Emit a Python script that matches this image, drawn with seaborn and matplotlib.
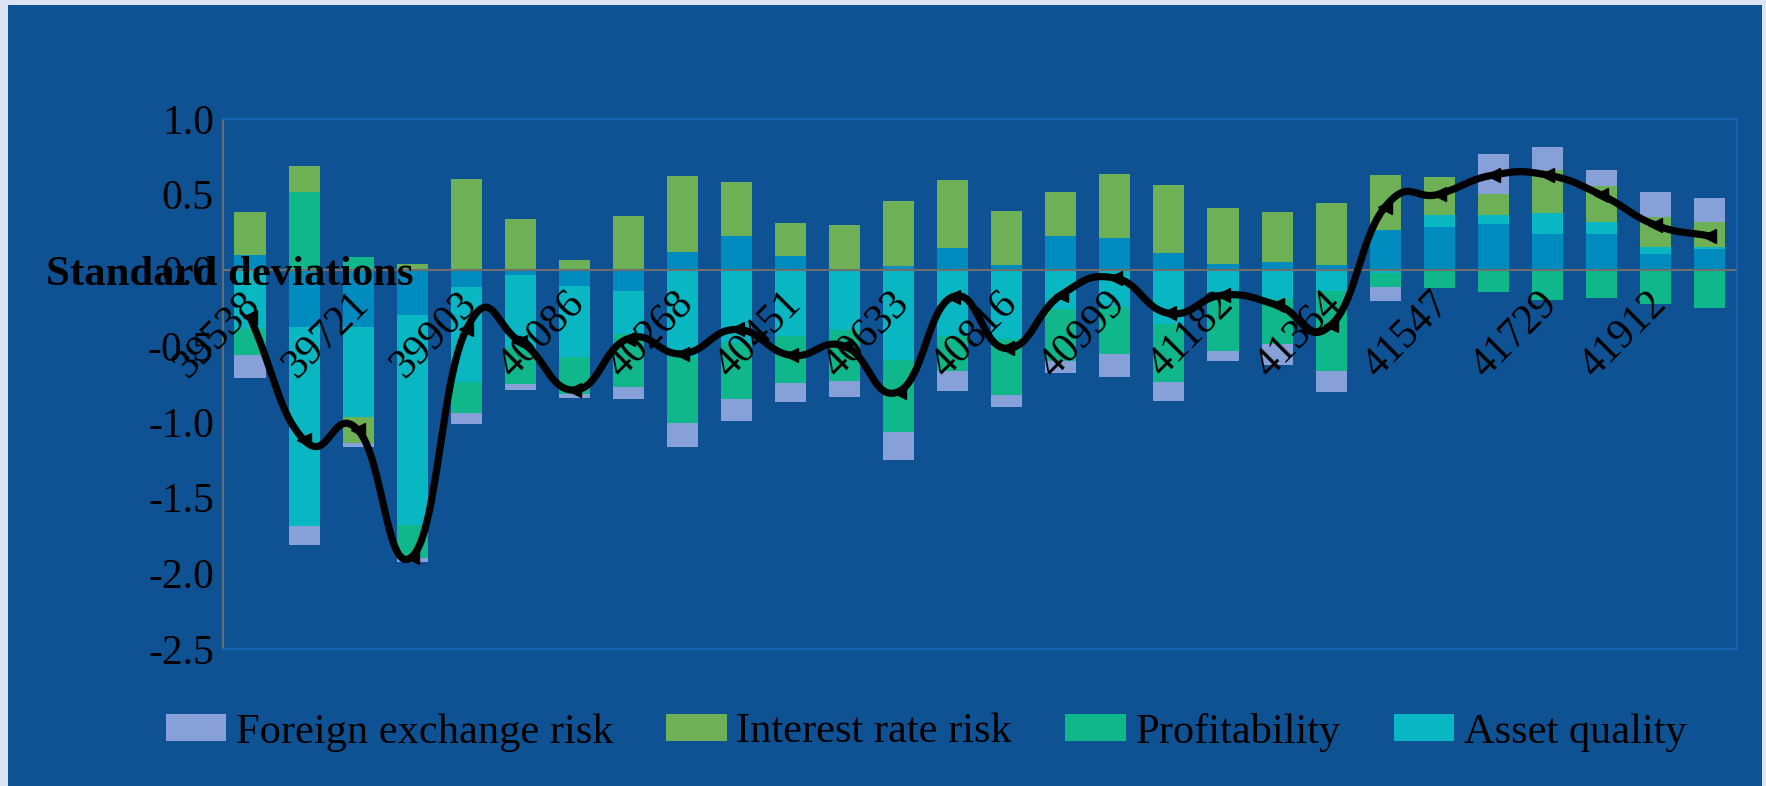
import numpy as np
import matplotlib
matplotlib.use("Agg")
import matplotlib.pyplot as plt
from matplotlib.patches import Patch, Rectangle
from matplotlib.transforms import offset_copy
import seaborn as sns

# Quarter-end dates (spreadsheet serial numbers)
dates = [39538, 39629, 39721, 39813, 39903, 39994, 40086, 40178, 40268, 40359,
         40451, 40543, 40633, 40724, 40816, 40908, 40999, 41090, 41182, 41274,
         41364, 41455, 41547, 41639, 41729, 41820, 41912, 42004]

# Contributions to the composite index (standard deviations)
liquidity = [0.10, -0.374, -0.374, -0.295, -0.11, -0.03, -0.103, -0.137, 0.12, 0.227,
             0.095, 0.01, 0.03, 0.148, 0.035, 0.227, 0.214, 0.112, 0.042, 0.055,
             0.035, 0.266, 0.286, 0.306, 0.24, 0.24, 0.108, 0.141]
asset_quality = [-0.387, -1.314, -0.594, -1.387, -0.627, -0.473, -0.469, -0.28, -0.57, -0.476,
                 -0.43, -0.394, -0.592, -0.432, -0.453, -0.258, -0.244, -0.354, -0.19, -0.19,
                 -0.137, -0.018, 0.077, 0.057, 0.139, 0.079, 0.046, 0.013]
profitability = [-0.172, 0.52, 0.088, -0.216, -0.205, -0.244, -0.244, -0.354, -0.436, -0.374,
                 -0.315, -0.337, -0.476, -0.233, -0.37, -0.339, -0.308, -0.381, -0.341, -0.293,
                 -0.528, -0.092, -0.114, -0.141, -0.196, -0.18, -0.22, -0.247]
interest_rate = [0.285, 0.17, -0.174, 0.042, 0.603, 0.339, 0.066, 0.359, 0.502, 0.357,
                 0.218, 0.29, 0.43, 0.449, 0.357, 0.291, 0.422, 0.449, 0.37, 0.33,
                 0.41, 0.363, 0.253, 0.141, 0.284, 0.238, 0.198, 0.165]
fx_risk = [-0.15, -0.123, -0.022, -0.026, -0.07, -0.04, -0.024, -0.08, -0.159, -0.145,
           -0.125, -0.103, -0.183, -0.132, -0.077, -0.079, -0.15, -0.125, -0.066, -0.141,
           -0.137, -0.092, -0.005, 0.264, 0.152, 0.106, 0.165, 0.159]

# Composite index
composite = [-0.31, -1.12, -1.055, -1.89, -0.39, -0.47, -0.79, -0.45, -0.55, -0.39,
             -0.56, -0.50, -0.80, -0.174, -0.515, -0.163, -0.05, -0.283, -0.163, -0.228,
             -0.36, 0.42, 0.504, 0.63, 0.63, 0.498, 0.30, 0.227]

y_ticks = [1.0, 0.5, 0.0, -0.5, -1.0, -1.5, -2.0, -2.5]
legend_labels = ["Foreign exchange risk", "Interest rate risk", "Profitability", "Asset quality"]
y_title = "Standard deviations"

BG = "#0E5294"
OUTER = "#DCE4F5"
FRAME = "#1565B9"
AXIS_GREY = "#6E6E6E"
C_FX = "#88A0D8"
C_IR = "#6DB056"
C_PROF = "#10B78A"
C_AQ = "#08B7C1"
C_LIQ = "#008BBF"

sns.set_theme(style="white")
plt.rcParams["font.family"] = ["Liberation Serif", "DejaVu Serif"]
plt.rcParams["axes.unicode_minus"] = False

W, H = 1766, 786
fig = plt.figure(figsize=(W / 100, H / 100), dpi=100, facecolor=OUTER)
fig.patches.append(Rectangle((8 / W, 0), (1762 - 8) / W, (H - 5) / H,
                             transform=fig.transFigure, facecolor=BG,
                             edgecolor="none", zorder=-10))

ax = fig.add_axes([223 / W, 1 - 649 / H, (1736.5 - 223) / W, (649 - 119) / H])
ax.set_facecolor(BG)

# Stacked bars: positive and negative parts stack separately, innermost first
layers = [liquidity, asset_quality, profitability, interest_rate, fx_risk]
colors = [C_LIQ, C_AQ, C_PROF, C_IR, C_FX]
vals = np.array(layers, dtype=float)
pos_cum = np.clip(vals, 0, None).cumsum(axis=0)
neg_cum = np.clip(vals, None, 0).cumsum(axis=0)
cats = [str(d) for d in dates]

for k in reversed(range(len(layers))):
    for cum in (pos_cum[k], neg_cum[k]):
        sns.barplot(x=cats, y=cum, order=cats, color=colors[k], width=0.575,
                    saturation=1, linewidth=0, errorbar=None, ax=ax, zorder=1)


def smooth_curve(xv, yv, k=0.7, n=30):
    pts = np.column_stack([xv, yv]).astype(float)
    ext = np.vstack([2 * pts[0] - pts[1], pts, 2 * pts[-1] - pts[-2]])
    t = np.linspace(0, 1, n, endpoint=False)[:, None]
    h00 = 2 * t**3 - 3 * t**2 + 1
    h10 = t**3 - 2 * t**2 + t
    h01 = -2 * t**3 + 3 * t**2
    h11 = t**3 - t**2
    segs = []
    for i in range(len(pts) - 1):
        p0, p1, p2, p3 = ext[i], ext[i + 1], ext[i + 2], ext[i + 3]
        m1 = k * (p2 - p0)
        m2 = k * (p3 - p1)
        segs.append(h00 * p1 + h10 * m1 + h01 * p2 + h11 * m2)
    segs.append(pts[-1:])
    out = np.vstack(segs)
    return out[:, 0], out[:, 1]


xpos = np.arange(len(dates))
cx, cy = smooth_curve(xpos, composite)
ax.plot(cx, cy, color="black", linewidth=5.2, solid_capstyle="round",
        solid_joinstyle="round", zorder=4)
ax.plot(xpos, composite, linestyle="none", marker="<", markersize=10,
        color="black", zorder=5)

ax.axhline(0, color=AXIS_GREY, linewidth=1.5, zorder=2.5)

ax.set_xlim(-0.5, len(dates) - 0.5)
ax.set_ylim(-2.5, 1.0)
ax.set_xticks([])
ax.set_xlabel("")
ax.set_ylabel("")
ax.set_yticks(y_ticks)
ax.set_yticklabels([f"{v:.1f}" for v in y_ticks])
ax.tick_params(axis="y", length=0, pad=6.5, labelsize=30, labelcolor="black")

for side in ("top", "right", "bottom"):
    ax.spines[side].set_color(FRAME)
    ax.spines[side].set_linewidth(1.3)
ax.spines["left"].set_color(AXIS_GREY)
ax.spines["left"].set_linewidth(1.3)

# Category labels along the zero axis, every other quarter
lab_tr = offset_copy(ax.transData, fig=fig, x=-9, y=-14, units="dots")
for i in range(0, len(dates), 2):
    ax.text(i, 0, str(dates[i]), transform=lab_tr, rotation=45,
            rotation_mode="anchor", ha="right", va="top", fontsize=30,
            color="black", zorder=3)

fig.text(46 / W, 1 - 285 / H, y_title, fontsize=30.8, fontweight="bold",
         ha="left", va="baseline", color="black")

handles = [Patch(facecolor=c, edgecolor="none") for c in (C_FX, C_IR, C_PROF, C_AQ)]
fig.legend(handles, legend_labels, loc="center",
           bbox_to_anchor=(926 / W, 1 - 732 / H), ncol=4, frameon=False,
           fontsize=30.6, handlelength=1.43, handleheight=0.6,
           handletextpad=0.22, columnspacing=1.25, borderpad=0,
           borderaxespad=0, labelcolor="black")

fig.savefig("out.png", dpi=100, facecolor=fig.get_facecolor())
